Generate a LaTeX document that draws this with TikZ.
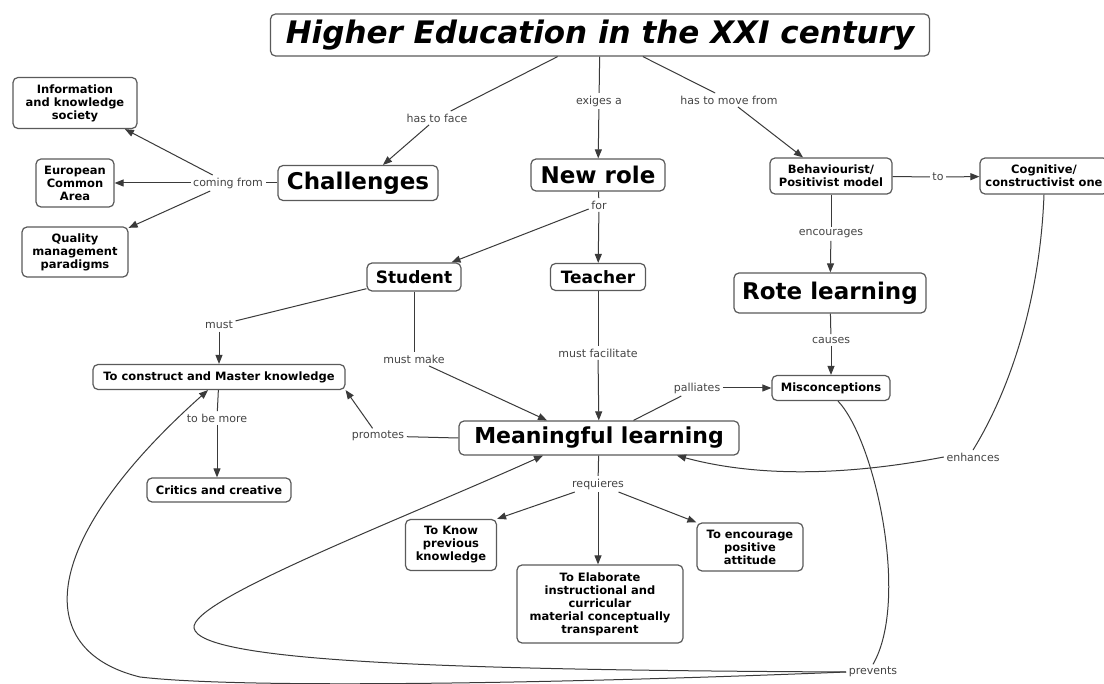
\documentclass[tikz,border=0pt]{standalone}
\usepackage{fontspec}
\setmainfont{DejaVu Sans}
\usetikzlibrary{arrows.meta}
\definecolor{boxgray}{HTML}{5A5A5A}
\definecolor{linegray}{HTML}{3A3A3A}
\definecolor{lblgray}{HTML}{444444}
\tikzset{
  box/.style={draw=boxgray, rounded corners=5pt, line width=1.2pt, fill=white, align=center,
    inner sep=0pt, font=\bfseries\fontsize{11.5}{13}\selectfont, text=black},
  bigbox/.style={box, font=\bfseries\fontsize{23}{26}\selectfont},
  midbox/.style={box, font=\bfseries\fontsize{17}{20}\selectfont},
  lbl/.style={font=\fontsize{11}{13}\selectfont, text=lblgray, inner sep=2.5pt},
  con/.style={draw=linegray, line width=1pt},
  arr/.style={con, -{Triangle[length=9pt,width=7pt]}},
}
\begin{document}
\begin{tikzpicture}[x=1pt,y=-1pt]
\useasboundingbox[fill=white] (0,0) rectangle (1104,684);
% nodes
\node[box, font=\bfseries\itshape\fontsize{31}{34}\selectfont, minimum width=659pt, minimum height=42pt] (title) at (600,35) {Higher Education in the XXI century};
\node[box, minimum width=124pt, minimum height=51pt] (info) at (75,103) {Information\\and knowledge\\society};
\node[box, minimum width=78pt, minimum height=48pt] (euro) at (75,183) {European\\Common\\Area};
\node[box, minimum width=106pt, minimum height=50pt] (qual) at (75,252) {Quality\\management\\paradigms};
\node[bigbox, minimum width=160pt, minimum height=35pt] (chall) at (358,183) {Challenges};
\node[bigbox, minimum width=134pt, minimum height=32pt] (newrole) at (598,175) {New role};
\node[box, minimum width=122pt, minimum height=36pt] (behav) at (831,176) {Behaviourist/\\Positivist model};
\node[box, minimum width=128pt, minimum height=36pt] (cogn) at (1044,176) {Cognitive/\\constructivist one};
\node[midbox, minimum width=94pt, minimum height=28pt] (student) at (414,277) {Student};
\node[midbox, minimum width=95pt, minimum height=27pt] (teacher) at (598,277) {Teacher};
\node[bigbox, minimum width=192pt, minimum height=40pt] (rote) at (830,293) {Rote learning};
\node[box, minimum width=118pt, minimum height=25pt] (miscon) at (831,388) {Misconceptions};
\node[box, minimum width=252pt, minimum height=25pt] (construct) at (219,377) {To construct and Master knowledge};
\node[box, minimum width=144pt, minimum height=24pt] (critics) at (219,490) {Critics and creative};
\node[bigbox, font=\bfseries\fontsize{22}{26}\selectfont, minimum width=280pt, minimum height=34pt] (meaning) at (599,438) {Meaningful learning};
\node[box, minimum width=91pt, minimum height=51pt] (know) at (451,545) {To Know\\previous\\knowledge};
\node[box, minimum width=166pt, minimum height=78pt] (elab) at (600,604) {To Elaborate\\instructional and\\curricular\\material conceptually\\transparent};
\node[box, minimum width=106pt, minimum height=48pt] (encour) at (750,547) {To encourage\\positive\\attitude};
% labels
\node[lbl] (hasface) at (437,118) {has to face};
\node[lbl] (exiges) at (599,101) {exiges a};
\node[lbl] (hasmove) at (729,100) {has to move from};
\node[lbl] (coming) at (228,183) {coming from};
\node[lbl] (tolbl) at (938,177) {to};
\node[lbl] (for) at (599,205) {for};
\node[lbl] (encourages) at (831,234) {encourages};
\node[lbl] (causes) at (831,340) {causes};
\node[lbl] (must) at (219,325) {must};
\node[lbl] (tobemore) at (217,418) {to be more};
\node[lbl] (mustmake) at (414,359) {must make};
\node[lbl] (mustfac) at (598,353) {must facilitate};
\node[lbl] (promotes) at (378,436) {promotes};
\node[lbl] (palliates) at (697,388) {palliates};
\node[lbl] (enhances) at (973,457) {enhances};
\node[lbl] (requieres) at (598,484) {requieres};
\node[lbl] (prevents) at (873,672) {prevents};
% connectors
\draw[con] (title) -- (hasface);
\draw[arr] (hasface) -- ([xshift=25pt]chall.north);
\draw[con] (title) -- (exiges);
\draw[arr] (exiges) -- (newrole);
\draw[con] (title) -- (hasmove);
\draw[arr] (hasmove) -- ([xshift=-28pt]behav.north);
\draw[con] (chall) -- (coming);
\draw[arr] (coming) -- (info);
\draw[arr] (coming) -- (euro);
\draw[arr] (coming) -- (qual);
\draw[con] (behav) -- (tolbl);
\draw[arr] (tolbl) -- (cogn);
\draw[con] (newrole) -- (for);
\draw[arr] (for) -- (student);
\draw[arr] (for) -- (teacher);
\draw[con] (behav) -- (encourages);
\draw[arr] (encourages) -- (rote);
\draw[con] (rote) -- (causes);
\draw[arr] (causes) -- (causes |- miscon.north);
\draw[con] (student) -- (must);
\draw[arr] (must) -- (construct);
\draw[con] (construct) -- (tobemore);
\draw[arr] (tobemore) -- (tobemore |- critics.north);
\draw[con] (student) -- (mustmake);
\draw[arr] (mustmake) -- ([xshift=-52pt]meaning.north);
\draw[con] (teacher) -- (mustfac);
\draw[arr] (mustfac) -- (meaning);
\draw[con] (meaning.west) -- (promotes);
\draw[arr] (promotes) -- (construct.south east);
\draw[con] (meaning) -- (palliates);
\draw[arr] (palliates) -- (miscon);
\draw[con] (cogn.south) .. controls (1040,300) and (1010,390) .. (enhances.north);
\draw[arr] (enhances.west) .. controls (850,475) and (760,478) .. ([xshift=78pt]meaning.south);
\draw[con] (meaning) -- (requieres);
\draw[arr] (requieres) -- (know.north east);
\draw[arr] (requieres) -- (requieres |- elab.north);
\draw[arr] (requieres) -- (encour.north west);
\draw[con] ([xshift=7pt]miscon.south) .. controls (875,440) and (910,600) .. (prevents.north);
\draw[arr] (prevents.west) .. controls (450,670) and (200,662) .. (194,628)
   .. controls (190,600) and (400,520) .. ([xshift=-56pt]meaning.south);
\draw[arr] (prevents.west) .. controls (600,682) and (250,690) .. (140,677)
   .. controls (30,650) and (40,540) .. ([xshift=-11pt]construct.south);
\end{tikzpicture}
\end{document}
